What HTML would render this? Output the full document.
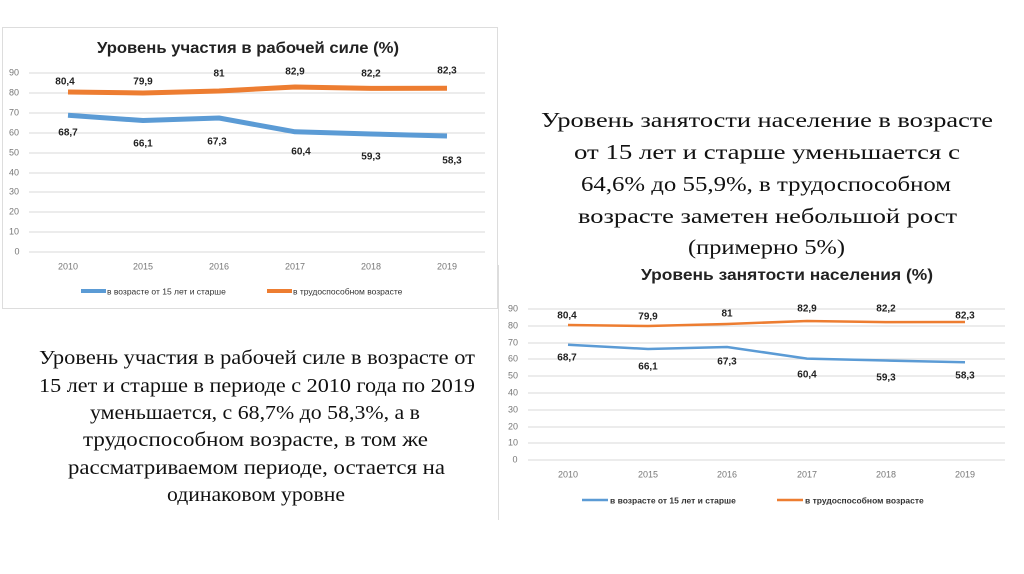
<!DOCTYPE html>
<html><head><meta charset="utf-8"><style>
body{margin:0;background:#fff;width:1024px;height:574px;overflow:hidden}
svg{display:block}
.t{font-family:"Liberation Sans",sans-serif}
.s{font-family:"Liberation Serif",serif}
</style></head><body>
<svg width="1024" height="574" xmlns="http://www.w3.org/2000/svg">
<rect x="0" y="0" width="1024" height="574" fill="#fff"/>
<!-- Chart 1 -->
<rect x="2.5" y="27.5" width="495" height="281" fill="#fff" stroke="#ddd"/>
<text class="t" x="248" y="53" font-size="15.5" font-weight="bold" text-anchor="middle" fill="#222" textLength="302" lengthAdjust="spacingAndGlyphs">Уровень участия в рабочей силе (%)</text>
<g stroke="#d9d9d9" stroke-width="1">
<line x1="29" x2="485" y1="73" y2="73"/><line x1="29" x2="485" y1="93" y2="93"/><line x1="29" x2="485" y1="113" y2="113"/><line x1="29" x2="485" y1="133" y2="133"/><line x1="29" x2="485" y1="153" y2="153"/><line x1="29" x2="485" y1="173" y2="173"/><line x1="29" x2="485" y1="192" y2="192"/><line x1="29" x2="485" y1="212" y2="212"/><line x1="29" x2="485" y1="232" y2="232"/><line x1="29" x2="485" y1="252" y2="252"/>
</g>
<g class="t" font-size="9" fill="#777" text-anchor="middle" dominant-baseline="middle">
<text x="14" y="73">90</text><text x="14" y="93">80</text><text x="14" y="113">70</text><text x="14" y="133">60</text><text x="14" y="153">50</text><text x="14" y="173">40</text><text x="14" y="192">30</text><text x="14" y="212">20</text><text x="14" y="232">10</text><text x="17" y="252">0</text>
<text x="68" y="267">2010</text><text x="143" y="267">2015</text><text x="219" y="267">2016</text><text x="295" y="267">2017</text><text x="371" y="267">2018</text><text x="447" y="267">2019</text>
</g>
<polyline fill="none" stroke="#ed7d31" stroke-width="5" stroke-linejoin="round" points="68,92 143,93 219,91 295,87 371,88.4 447,88.2"/>
<polyline fill="none" stroke="#5b9bd5" stroke-width="5" stroke-linejoin="round" points="68,115.3 143,120.5 219,118 295,131.8 371,134 447,136"/>
<g class="t" font-size="10" font-weight="bold" fill="#222" text-anchor="middle" dominant-baseline="middle">
<text x="65" y="82">80,4</text><text x="143" y="82">79,9</text><text x="219" y="74">81</text><text x="295" y="72">82,9</text><text x="371" y="74">82,2</text><text x="447" y="71">82,3</text>
<text x="68" y="133">68,7</text><text x="143" y="144">66,1</text><text x="217" y="142">67,3</text><text x="301" y="152">60,4</text><text x="371" y="157">59,3</text><text x="452" y="161">58,3</text>
</g>
<line x1="81" x2="106" y1="291" y2="291" stroke="#5b9bd5" stroke-width="4"/>
<text class="t" x="107" y="294.5" font-size="8.5" fill="#333">в возрасте от 15 лет и старше</text>
<line x1="267" x2="292" y1="291" y2="291" stroke="#ed7d31" stroke-width="4"/>
<text class="t" x="293" y="294.5" font-size="8.5" fill="#333">в трудоспособном возрасте</text>

<!-- Right text -->
<g class="s" font-size="21" fill="#111" lengthAdjust="spacingAndGlyphs">
<text x="541" y="127" textLength="452" lengthAdjust="spacingAndGlyphs">Уровень занятости население в возрасте</text>
<text x="574" y="159" textLength="386" lengthAdjust="spacingAndGlyphs">от 15 лет и старше уменьшается с</text>
<text x="581" y="191" textLength="370" lengthAdjust="spacingAndGlyphs">64,6% до 55,9%, в трудоспособном</text>
<text x="578" y="223" textLength="379" lengthAdjust="spacingAndGlyphs">возрасте заметен небольшой рост</text>
<text x="688" y="254" textLength="157" lengthAdjust="spacingAndGlyphs">(примерно 5%)</text>
</g>

<!-- Chart 2 -->
<line x1="498.5" x2="498.5" y1="265" y2="520" stroke="#ddd"/>
<text class="t" x="787" y="280" font-size="15.5" font-weight="bold" text-anchor="middle" fill="#222" textLength="292" lengthAdjust="spacingAndGlyphs">Уровень занятости населения (%)</text>
<g stroke="#d9d9d9" stroke-width="1">
<line x1="528" x2="1005" y1="309" y2="309"/><line x1="528" x2="1005" y1="326" y2="326"/><line x1="528" x2="1005" y1="343" y2="343"/><line x1="528" x2="1005" y1="359" y2="359"/><line x1="528" x2="1005" y1="376" y2="376"/><line x1="528" x2="1005" y1="393" y2="393"/><line x1="528" x2="1005" y1="410" y2="410"/><line x1="528" x2="1005" y1="427" y2="427"/><line x1="528" x2="1005" y1="443" y2="443"/><line x1="528" x2="1005" y1="460" y2="460"/>
</g>
<g class="t" font-size="9" fill="#777" text-anchor="middle" dominant-baseline="middle">
<text x="513" y="309">90</text><text x="513" y="326">80</text><text x="513" y="343">70</text><text x="513" y="359">60</text><text x="513" y="376">50</text><text x="513" y="393">40</text><text x="513" y="410">30</text><text x="513" y="427">20</text><text x="513" y="443">10</text><text x="515" y="460">0</text>
<text x="568" y="475">2010</text><text x="648" y="475">2015</text><text x="727" y="475">2016</text><text x="807" y="475">2017</text><text x="886" y="475">2018</text><text x="965" y="475">2019</text>
</g>
<polyline fill="none" stroke="#ed7d31" stroke-width="2.5" stroke-linejoin="round" points="568,325 648,326 727,324 807,321 886,322.1 965,322"/>
<polyline fill="none" stroke="#5b9bd5" stroke-width="2.5" stroke-linejoin="round" points="568,344.7 648,349 727,347 807,358.6 886,360.5 965,362.2"/>
<g class="t" font-size="10" font-weight="bold" fill="#222" text-anchor="middle" dominant-baseline="middle">
<text x="567" y="316">80,4</text><text x="648" y="317">79,9</text><text x="727" y="314">81</text><text x="807" y="309">82,9</text><text x="886" y="309">82,2</text><text x="965" y="316">82,3</text>
<text x="567" y="358">68,7</text><text x="648" y="367">66,1</text><text x="727" y="362">67,3</text><text x="807" y="375">60,4</text><text x="886" y="378">59,3</text><text x="965" y="376">58,3</text>
</g>
<line x1="582" x2="608" y1="500" y2="500" stroke="#5b9bd5" stroke-width="2.5"/>
<text class="t" x="610" y="503.5" font-size="8.5" font-weight="bold" fill="#333">в возрасте от 15 лет и старше</text>
<line x1="777" x2="803" y1="500" y2="500" stroke="#ed7d31" stroke-width="2.5"/>
<text class="t" x="805" y="503.5" font-size="8.5" font-weight="bold" fill="#333">в трудоспособном возрасте</text>

<!-- Left text -->
<g class="s" font-size="19.5" fill="#111">
<text x="39" y="364" textLength="436" lengthAdjust="spacingAndGlyphs">Уровень участия в рабочей силе в возрасте от</text>
<text x="39" y="392" textLength="436" lengthAdjust="spacingAndGlyphs">15 лет и старше в периоде с 2010 года по 2019</text>
<text x="90" y="419" textLength="330" lengthAdjust="spacingAndGlyphs">уменьшается, с 68,7% до 58,3%, а в</text>
<text x="83" y="446" textLength="345" lengthAdjust="spacingAndGlyphs">трудоспособном возрасте, в том же</text>
<text x="68" y="474" textLength="377" lengthAdjust="spacingAndGlyphs">рассматриваемом периоде, остается на</text>
<text x="167" y="501" textLength="178" lengthAdjust="spacingAndGlyphs">одинаковом уровне</text>
</g>
</svg>
</body></html>
